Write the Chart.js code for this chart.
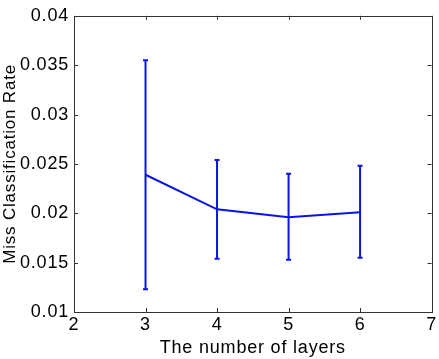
<!DOCTYPE html>
<html>
<head>
<meta charset="utf-8">
<script src="https://cdn.jsdelivr.net/npm/chart.js@4.4.0/dist/chart.umd.min.js"></script>
<style>
  html, body { margin: 0; padding: 0; background: #fff; }
  #wrap { width: 439px; height: 359px; }
</style>
</head>
<body>
<div id="wrap"><canvas id="chart" width="439" height="359"></canvas></div>
<script>
// values
const layers = [3, 4, 5, 6];
const meanRate = [0.0239, 0.0204, 0.0196, 0.0201];
const lowerRate = [0.0123, 0.0154, 0.0153, 0.0155];
const upperRate = [0.0355, 0.0254, 0.0240, 0.0248];
const xTicks = [2, 3, 4, 5, 6, 7];
const yTicks = [0.01, 0.015, 0.02, 0.025, 0.03, 0.035, 0.04];

const blue = 'rgb(10, 20, 230)';
const axisColor = '#333';
const fontFamily = '"Liberation Sans", Arial, sans-serif';

// one small line dataset per error bar, caps are 'line' point markers
const errorSets = layers.map((x, i) => ({
    type: 'line',
    data: [{ x: x, y: lowerRate[i] }, { x: x, y: upperRate[i] }],
    borderColor: blue,
    borderWidth: 2,
    pointStyle: 'line',
    pointRadius: 2.5,
    pointBorderWidth: 2,
    pointBorderColor: blue,
    pointHoverRadius: 0
}));

// the reference text is a little wider than Arial
const spacingPlugin = {
    id: 'spacing',
    beforeUpdate(chart) { chart.ctx.letterSpacing = '0.8px'; },
    beforeDraw(chart) { chart.ctx.letterSpacing = '0.8px'; }
};

// MATLAB style box with inward ticks
const boxPlugin = {
    id: 'box',
    afterDatasetsDraw(chart) {
        const ctx = chart.ctx;
        const a = chart.chartArea;
        const xs = chart.scales.x;
        const ys = chart.scales.y;
        const len = 4;
        ctx.save();
        ctx.strokeStyle = axisColor;
        ctx.lineWidth = 1;
        ctx.beginPath();
        xTicks.forEach(v => {
            const px = Math.round(xs.getPixelForValue(v)) + 0.5;
            ctx.moveTo(px, a.bottom);
            ctx.lineTo(px, a.bottom - len);
            ctx.moveTo(px, a.top);
            ctx.lineTo(px, a.top + len);
        });
        yTicks.forEach(v => {
            const py = Math.round(ys.getPixelForValue(v)) + 0.5;
            ctx.moveTo(a.left, py);
            ctx.lineTo(a.left + len, py);
            ctx.moveTo(a.right, py);
            ctx.lineTo(a.right - len, py);
        });
        ctx.stroke();
        ctx.strokeRect(Math.round(a.left) + 0.5, Math.round(a.top) + 0.5,
            Math.round(a.right - a.left), Math.round(a.bottom - a.top));
        ctx.restore();
    }
};

new Chart(document.getElementById('chart'), {
    type: 'line',
    data: {
        datasets: [{
            data: layers.map((x, i) => ({ x: x, y: meanRate[i] })),
            borderColor: blue,
            borderWidth: 2,
            pointRadius: 0,
            tension: 0
        }, ...errorSets]
    },
    options: {
        responsive: false,
        animation: false,
        events: [],
        layout: { padding: { top: 13, right: 7, left: 0, bottom: 0 } },
        plugins: {
            legend: { display: false },
            tooltip: { enabled: false }
        },
        scales: {
            x: {
                type: 'linear',
                min: 2,
                max: 7,
                afterBuildTicks: s => { s.ticks = xTicks.map(v => ({ value: v })); },
                afterFit: s => { s.height = 47; },
                grid: { display: false, drawTicks: false },
                border: { display: false },
                ticks: {
                    color: '#000',
                    padding: 2,
                    font: { family: fontFamily, size: 18 },
                    callback: v => String(v)
                },
                title: {
                    display: true,
                    text: 'The number of layers',
                    color: '#000',
                    padding: { top: 0, bottom: 0 },
                    font: { family: fontFamily, size: 18 }
                }
            },
            y: {
                min: 0.01,
                max: 0.04,
                afterBuildTicks: s => { s.ticks = yTicks.map(v => ({ value: v })); },
                afterFit: s => { s.width = 74; },
                grid: { display: false, drawTicks: false },
                border: { display: false },
                ticks: {
                    color: '#000',
                    padding: 5,
                    font: { family: fontFamily, size: 18 },
                    callback: v => String(v)
                },
                title: {
                    display: true,
                    text: 'Miss Classification Rate',
                    color: '#000',
                    padding: { top: 0, bottom: 0 },
                    font: { family: fontFamily, size: 17 }
                }
            }
        }
    },
    plugins: [spacingPlugin, boxPlugin]
});
</script>
</body>
</html>
